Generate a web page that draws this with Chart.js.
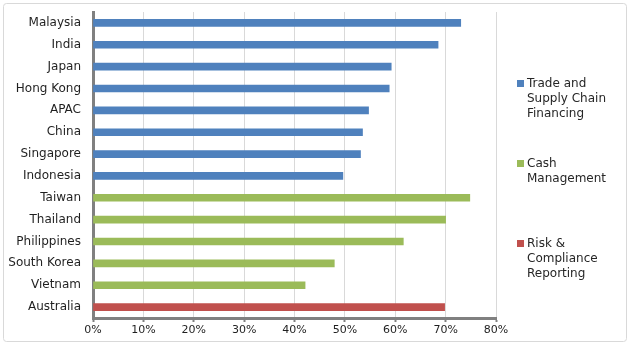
<!DOCTYPE html>
<html>
<head>
<meta charset="utf-8">
<script src="https://cdn.jsdelivr.net/npm/chart.js@4"></script>
<style>
  html, body { margin: 0; padding: 0; background: #fff; }
  #wrap { position: relative; width: 630px; height: 345px; }
  #legend { position: absolute; left: 517px; top: 0; font: 12px "DejaVu Sans", sans-serif; color: #262626; }
  .item { position: absolute; left: 0; white-space: nowrap; line-height: 15px; }
  .item i { position: absolute; left: 0; top: 4px; width: 7px; height: 7px; }
  .item span { display: block; padding-left: 10px; }
</style>
</head>
<body>
<div id="wrap">
  <canvas id="myChart" width="630" height="345"></canvas>
  <div id="legend"></div>
</div>
<script>
var countries = ['Malaysia', 'India', 'Japan', 'Hong Kong', 'APAC', 'China', 'Singapore', 'Indonesia',
                 'Taiwan', 'Thailand', 'Philippines', 'South Korea', 'Vietnam', 'Australia'];
var tradeFinance = [73.0, 68.5, 59.2, 58.8, 54.7, 53.5, 53.1, 49.6, null, null, null, null, null, null];
var cashMgmt = [null, null, null, null, null, null, null, null, 74.8, 70.0, 61.6, 47.9, 42.1, null];
var riskReporting = [null, null, null, null, null, null, null, null, null, null, null, null, null, 69.8];
var xTickLabels = ['0%', '10%', '20%', '30%', '40%', '50%', '60%', '70%', '80%'];

var seriesNames = [['Trade and', 'Supply Chain', 'Financing'], ['Cash', 'Management'], ['Risk &', 'Compliance', 'Reporting']];
var seriesColors = ['#4F81BD', '#9BBB59', '#C0504D'];
var legendTops = [76, 156, 236];

var family = '"DejaVu Sans", sans-serif';
var textColor = '#1f1f1f';

// rounded outer frame
var framePlugin = {
    id: 'frame',
    beforeDraw: function (chart) {
        var c = chart.ctx;
        c.save();
        c.fillStyle = '#fff';
        c.fillRect(0, 0, chart.width, chart.height);
        c.strokeStyle = '#d9d9d9';
        c.lineWidth = 1;
        c.beginPath();
        c.roundRect(3.5, 3.5, chart.width - 7, chart.height - 7, 3);
        c.stroke();
        c.restore();
    }
};

var ctx = document.getElementById('myChart').getContext('2d');
var myChart = new Chart(ctx, {
    type: 'bar',
    data: {
        labels: countries,
        datasets: [
            { label: seriesNames[0].join(' '), data: tradeFinance, backgroundColor: seriesColors[0] },
            { label: seriesNames[1].join(' '), data: cashMgmt, backgroundColor: seriesColors[1] },
            { label: seriesNames[2].join(' '), data: riskReporting, backgroundColor: seriesColors[2] }
        ]
    },
    options: {
        indexAxis: 'y',
        responsive: false,
        animation: false,
        barThickness: 7,
        layout: { padding: { left: 0, top: 12, right: 134, bottom: 0 } },
        plugins: {
            legend: { display: false },
            tooltip: { enabled: false }
        },
        scales: {
            x: {
                stacked: true,
                min: 0,
                max: 80,
                ticks: {
                    stepSize: 10,
                    color: textColor,
                    font: { family: family, size: 11 },
                    padding: 2,
                    callback: function (v, i) { return xTickLabels[i]; }
                },
                grid: { color: '#d9d9d9', tickColor: '#808080', tickLength: 4, tickWidth: 2 },
                border: { color: '#808080', width: 3 },
                afterFit: function (scale) { scale.height = 27; }
            },
            y: {
                stacked: true,
                ticks: { color: textColor, font: { family: family, size: 12 }, padding: 4 },
                grid: { display: false },
                border: { display: true, color: '#808080', width: 3 },
                afterFit: function (scale) { scale.width = 93; }
            }
        }
    },
    plugins: [framePlugin]
});

// legend with wrapped series names
var legend = document.getElementById('legend');
seriesNames.forEach(function (lines, i) {
    var item = document.createElement('div');
    item.className = 'item';
    item.style.top = legendTops[i] + 'px';
    var sw = document.createElement('i');
    sw.style.background = seriesColors[i];
    item.appendChild(sw);
    lines.forEach(function (t) {
        var s = document.createElement('span');
        s.textContent = t;
        item.appendChild(s);
    });
    legend.appendChild(item);
});
</script>
</body>
</html>
